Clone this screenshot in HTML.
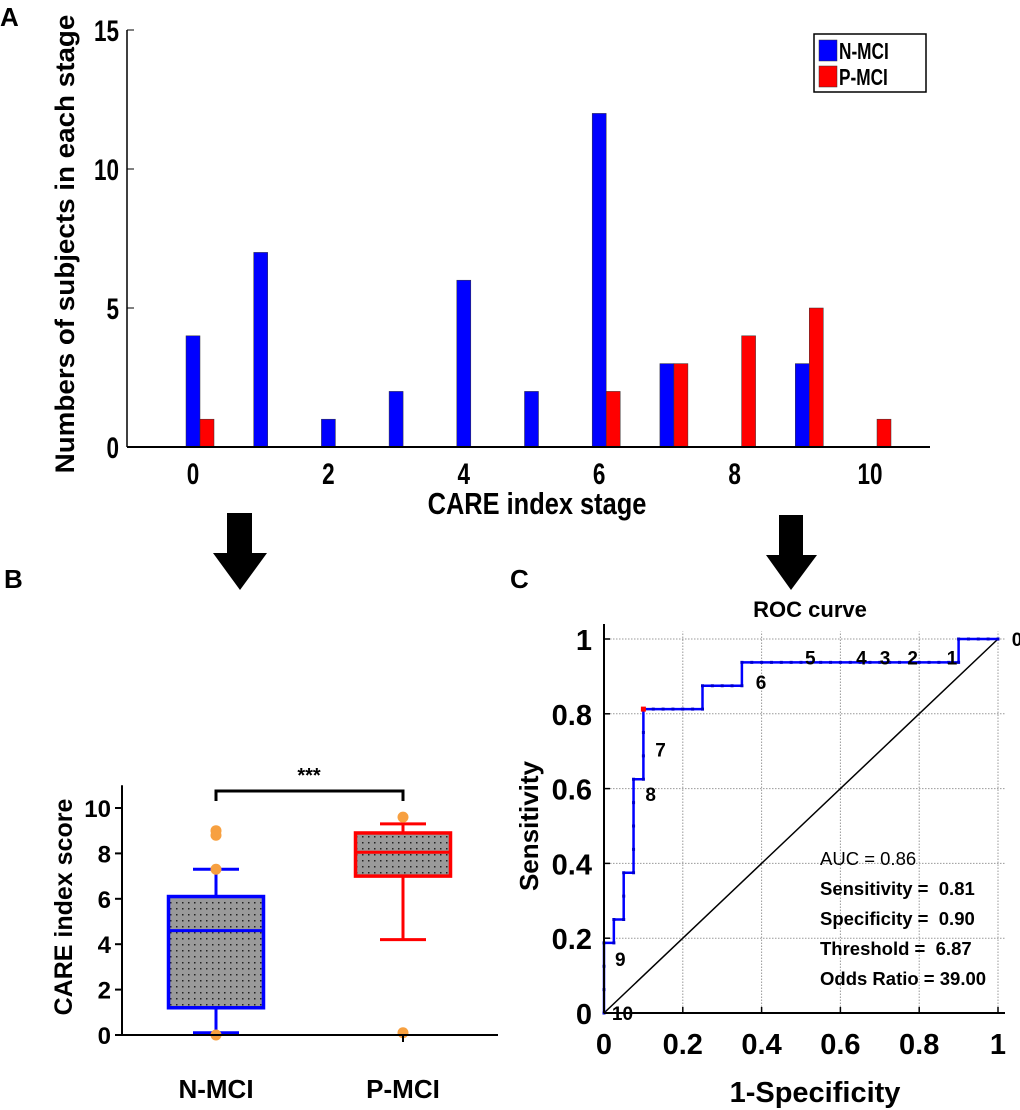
<!DOCTYPE html>
<html><head><meta charset="utf-8"><style>
html,body{margin:0;padding:0;background:#fff;}
svg{display:block;font-family:"Liberation Sans",Arial,sans-serif;font-weight:bold;}
text{white-space:pre;}
</style></head><body>
<svg id="fig" width="1020" height="1110" viewBox="0 0 1020 1110" xmlns="http://www.w3.org/2000/svg">
<text x="0" y="26" font-size="26">A</text>
<text x="4" y="588" font-size="26">B</text>
<text x="510" y="588" font-size="26">C</text>
<polygon points="227,513 252,513 252,553 267,553 240,590 213,553 227,553" fill="#000"/>
<polygon points="779,515 803,515 803,555 817,555 791,590 766,555 779,555" fill="#000"/>
<g id="pa"></g>
<g id="pb"></g>
<g id="pc"></g>
</svg>
<script>
// Panel A data
const stages=[0,1,2,3,4,5,6,7,8,9,10];
const nmciCounts=[4,7,1,2,6,2,12,3,0,3,0];
const pmciCounts=[1,0,0,0,0,0,2,3,4,5,1];
const aYTicks=[0,5,10,15];
const aXTicks=[0,2,4,6,8,10];
// Panel B data
const boxGroups=['N-MCI','P-MCI'];
const boxQ1=[1.2,7.0];
const boxMedian=[4.6,8.05];
const boxQ3=[6.1,8.9];
const boxWhiskLo=[0.1,4.2];
const boxWhiskHi=[7.3,9.3];
const outlierGroup=[0,0,0,0,1,1];
const outlierVal=[0,7.3,8.8,9.0,9.6,0.1];
const bYTicks=[0,2,4,6,8,10];
// Panel C data
const rocFpr=[0,0,0,0,0.025,0.025,0.05,0.05,0.05,0.075,0.075,0.075,0.075,0.075,0.1,0.1,0.1,0.1,0.125,0.15,0.175,0.2,0.225,0.25,0.25,0.275,0.3,0.325,0.35,0.35,0.375,0.4,0.425,0.45,0.475,0.5,0.525,0.55,0.575,0.6,0.625,0.65,0.675,0.7,0.725,0.75,0.775,0.8,0.825,0.85,0.875,0.9,0.9,0.925,0.95,0.975,1];
const rocTpr=[0,0.0625,0.125,0.1875,0.1875,0.25,0.25,0.3125,0.375,0.375,0.4375,0.5,0.5625,0.625,0.625,0.6875,0.75,0.8125,0.8125,0.8125,0.8125,0.8125,0.8125,0.8125,0.875,0.875,0.875,0.875,0.875,0.9375,0.9375,0.9375,0.9375,0.9375,0.9375,0.9375,0.9375,0.9375,0.9375,0.9375,0.9375,0.9375,0.9375,0.9375,0.9375,0.9375,0.9375,0.9375,0.9375,0.9375,0.9375,0.9375,1,1,1,1,1];
const thrLabels=['0','1','2','3','4','5','6','7','8','9','10'];
const thrX=[1.035,0.87,0.77,0.70,0.64,0.51,0.385,0.13,0.105,0.028,0.02];
const thrY=[1.0,0.95,0.95,0.95,0.95,0.95,0.885,0.705,0.585,0.145,0.0];
const cTicks=[0,0.2,0.4,0.6,0.8,1];
const NS='http://www.w3.org/2000/svg';
function el(p,t,a,txt){const e=document.createElementNS(NS,t);for(const k in a)e.setAttribute(k,a[k]);if(txt!==undefined)e.textContent=txt;p.appendChild(e);return e;}
function sx(x,s){return `translate(${x} 0) scale(${s} 1) translate(${-x} 0)`;}

// ---------- Panel A ----------
(function(){
const g=document.getElementById('pa');
const ax=x=>193+x*67.7, ay=v=>447-v*27.8;
const bw=14;
stages.forEach((s,i)=>{
 if(nmciCounts[i]>0){const r=el(g,'rect',{x:ax(s)-7,y:ay(nmciCounts[i]),width:bw,height:ay(0)-ay(nmciCounts[i]),fill:'#0000ff',stroke:'#333','stroke-width':0.5});
 
 }
 if(pmciCounts[i]>0){const r=el(g,'rect',{x:ax(s)+7,y:ay(pmciCounts[i]),width:bw,height:ay(0)-ay(pmciCounts[i]),fill:'#ff0000',stroke:'#333','stroke-width':0.5});
 
 }
});
el(g,'line',{x1:127,y1:ay(0),x2:930,y2:ay(0),stroke:'#000','stroke-width':2});
el(g,'line',{x1:127,y1:ay(15),x2:127,y2:ay(0),stroke:'#000','stroke-width':1.5});
aYTicks.forEach(v=>{el(g,'line',{x1:127,y1:ay(v),x2:134,y2:ay(v),stroke:'#000','stroke-width':1});
 const t=el(g,'text',{x:119,y:ay(v)+11,'text-anchor':'end','font-size':30,transform:sx(119,0.75)},String(v));
 
 });
aXTicks.forEach(v=>{const t=el(g,'text',{x:ax(v),y:484,'text-anchor':'middle','font-size':30,transform:sx(ax(v),0.75)},String(v));
 
 });
let t=el(g,'text',{x:537,y:514,'text-anchor':'middle','font-size':31,transform:sx(537,0.82)},'CARE index stage');


t=el(g,'text',{x:0,y:0,'text-anchor':'middle','font-size':27,transform:'translate(74 244) rotate(-90) scale(1.03 1)'},'Numbers of subjects in each stage');


const lg=el(g,'g',{});


el(lg,'rect',{x:814,y:34,width:112,height:58,fill:'#fff',stroke:'#000','stroke-width':1.5});
el(lg,'rect',{x:819,y:40,width:18,height:21,fill:'#0000ff',stroke:'#333','stroke-width':0.5});
el(lg,'rect',{x:819,y:66,width:18,height:21,fill:'#ff0000',stroke:'#333','stroke-width':0.5});
el(lg,'text',{x:839,y:59,'font-size':23,transform:sx(839,0.75)},'N-MCI');
el(lg,'text',{x:839,y:85,'font-size':23,transform:sx(839,0.75)},'P-MCI');
})();

// ---------- Panel B ----------
(function(){
const g=document.getElementById('pb');
const by=v=>1035-v*22.7;
const cx=[216,403];
const defs=el(g,'defs',{});
const pat=el(defs,'pattern',{id:'dots',width:6,height:6,patternUnits:'userSpaceOnUse'});
el(pat,'rect',{width:6,height:6,fill:'#9a9a9a'});
el(pat,'rect',{x:2,y:2,width:1.5,height:1.5,fill:'#222'});
const col=['#0000ff','#ff0000'];
boxGroups.forEach((n,i)=>{
 const c=cx[i],w=95,cw=46;
 el(g,'line',{x1:c,y1:by(boxWhiskLo[i]),x2:c,y2:by(boxQ1[i]),stroke:col[i],'stroke-width':3});
 el(g,'line',{x1:c,y1:by(boxWhiskHi[i]),x2:c,y2:by(boxQ3[i]),stroke:col[i],'stroke-width':3});
 el(g,'line',{x1:c-cw/2,y1:by(boxWhiskLo[i]),x2:c+cw/2,y2:by(boxWhiskLo[i]),stroke:col[i],'stroke-width':3});
 el(g,'line',{x1:c-cw/2,y1:by(boxWhiskHi[i]),x2:c+cw/2,y2:by(boxWhiskHi[i]),stroke:col[i],'stroke-width':3});
 const r=el(g,'rect',{x:c-w/2,y:by(boxQ3[i]),width:w,height:by(boxQ1[i])-by(boxQ3[i]),fill:'url(#dots)',stroke:col[i],'stroke-width':3.5});
 
 
 el(g,'line',{x1:c-w/2,y1:by(boxMedian[i]),x2:c+w/2,y2:by(boxMedian[i]),stroke:col[i],'stroke-width':3});
 const t=el(g,'text',{x:c,y:1098,'text-anchor':'middle','font-size':26},n);
 
 
});
outlierVal.forEach((v,k)=>{const d=el(g,'circle',{cx:cx[outlierGroup[k]],cy:by(v),r:5.5,fill:'#f7a040'});
 
 });
el(g,'line',{x1:115,y1:by(0),x2:498,y2:by(0),stroke:'#000','stroke-width':2});
el(g,'line',{x1:122,y1:by(0),x2:122,y2:by(11),stroke:'#000','stroke-width':2});
el(g,'line',{x1:403,y1:by(0),x2:403,y2:by(0)+7,stroke:'#000','stroke-width':2});
bYTicks.forEach(v=>{el(g,'line',{x1:115,y1:by(v),x2:122,y2:by(v),stroke:'#000','stroke-width':2});
 const t=el(g,'text',{x:111,y:by(v)+9,'text-anchor':'end','font-size':24},String(v));
 
 });
let t=el(g,'text',{x:0,y:0,'text-anchor':'middle','font-size':25,transform:'translate(72 907) rotate(-90)'},'CARE index score');


el(g,'path',{d:'M216,801 V791 H403 V801',fill:'none',stroke:'#000','stroke-width':3});
t=el(g,'text',{x:309,y:782,'text-anchor':'middle','font-size':20},'***');


})();

// ---------- Panel C ----------
(function(){
const g=document.getElementById('pc');
const cx=v=>604+v*394, cy=v=>1013-v*374;
cTicks.forEach(v=>{ if(v>0){
 el(g,'line',{x1:cx(v),y1:cy(0),x2:cx(v),y2:cy(1.02),stroke:'#999','stroke-width':1,'stroke-dasharray':'1.5,1.5'});
 el(g,'line',{x1:cx(0),y1:cy(v),x2:1005,y2:cy(v),stroke:'#999','stroke-width':1,'stroke-dasharray':'1.5,1.5'});}});
el(g,'line',{x1:cx(0),y1:cy(0),x2:cx(1),y2:cy(1),stroke:'#000','stroke-width':1.5});
let d='';rocFpr.forEach((f,i)=>{d+=(i?'L':'M')+cx(f)+','+cy(rocTpr[i]);});
const p=el(g,'path',{d:d,fill:'none',stroke:'#0000ff','stroke-width':2.5});


rocFpr.forEach((f,i)=>{el(g,'rect',{x:cx(f)-1.5,y:cy(rocTpr[i])-1.5,width:3,height:3,fill:'#0000cc'});});
el(g,'rect',{x:cx(0.1)-2.5,y:cy(0.8125)-2.5,width:5,height:5,fill:'#ff0000'});
el(g,'line',{x1:cx(0),y1:cy(0),x2:1005,y2:cy(0),stroke:'#000','stroke-width':2});
el(g,'line',{x1:cx(0),y1:cy(0),x2:cx(0),y2:cy(1.04),stroke:'#000','stroke-width':2});
cTicks.forEach(v=>{
 el(g,'line',{x1:cx(0),y1:cy(v),x2:cx(0)+6,y2:cy(v),stroke:'#000','stroke-width':1.5});
 el(g,'line',{x1:cx(v),y1:cy(0),x2:cx(v),y2:cy(0)-6,stroke:'#000','stroke-width':1.5});
 let t=el(g,'text',{x:592,y:cy(v)+11,'text-anchor':'end','font-size':29},String(v));
 
 
 t=el(g,'text',{x:cx(v),y:1054,'text-anchor':'middle','font-size':29},String(v));
 
 });
thrLabels.forEach((l,i)=>{el(g,'text',{x:cx(thrX[i]),y:cy(thrY[i])+7,'text-anchor':'start','font-size':19,'font-weight':'bold'},l);});
let t=el(g,'text',{x:810,y:617,'text-anchor':'middle','font-size':22},'ROC curve');


t=el(g,'text',{x:815,y:1102,'text-anchor':'middle','font-size':29},'1-Specificity');


t=el(g,'text',{x:0,y:0,'text-anchor':'middle','font-size':26,transform:'translate(538 826) rotate(-90)'},'Sensitivity');


const stats=[['AUC = 0.86','normal',863],['Sensitivity =  0.81','bold',893],['Specificity =  0.90','bold',923],['Threshold =  6.87','bold',953],['Odds Ratio = 39.00','bold',983]];
stats.forEach(s=>{const e=el(g,'text',{x:820,y:s[2]+2,'font-size':18.5,'font-weight':s[1]},s[0]);
 
 });
})();
</script>
</body></html>
